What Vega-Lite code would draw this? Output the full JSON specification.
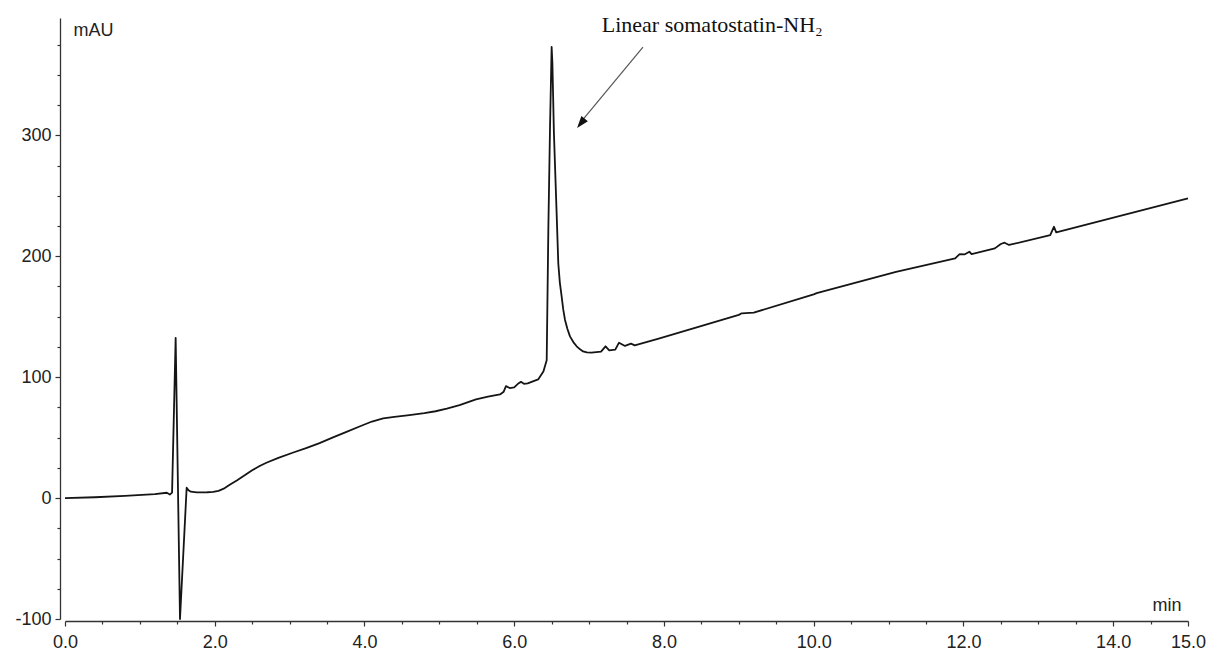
{
  "$schema": "https://vega.github.io/schema/vega-lite/v6.json",
  "width": 1123,
  "height": 601,
  "autosize": {"type": "none"},
  "padding": {"left": 65, "top": 18, "right": 22, "bottom": 33},
  "background": "white",
  "config": {
    "view": {"stroke": null},
    "axis": {
      "labelFont": "Liberation Sans",
      "labelFontSize": 18,
      "labelColor": "#222222",
      "titleFont": "Liberation Sans",
      "titleFontSize": 18,
      "titleFontWeight": "normal",
      "titleColor": "#222222",
      "domainColor": "#333333",
      "domainWidth": 1.3,
      "tickColor": "#333333",
      "tickWidth": 1.2,
      "grid": false
    }
  },
  "datasets": {
    "trace": [
      {"t": 0, "mAU": 0}, {"t": 0.4, "mAU": 0.7}, {"t": 0.8, "mAU": 1.8}, {"t": 1.2, "mAU": 3.3},
      {"t": 1.36, "mAU": 4.4}, {"t": 1.4, "mAU": 2.9}, {"t": 1.43, "mAU": 4.5}, {"t": 1.478, "mAU": 132.5},
      {"t": 1.536, "mAU": -100}, {"t": 1.625, "mAU": 8.6}, {"t": 1.65, "mAU": 6.5}, {"t": 1.68, "mAU": 5.3},
      {"t": 1.76, "mAU": 4.7}, {"t": 1.9, "mAU": 4.8}, {"t": 1.98, "mAU": 5.1}, {"t": 2.05, "mAU": 6.0},
      {"t": 2.12, "mAU": 7.8}, {"t": 2.2, "mAU": 11}, {"t": 2.3, "mAU": 14.8}, {"t": 2.4, "mAU": 18.8},
      {"t": 2.5, "mAU": 23}, {"t": 2.6, "mAU": 26.5}, {"t": 2.69, "mAU": 29.2}, {"t": 2.85, "mAU": 33.3},
      {"t": 3.04, "mAU": 37.5}, {"t": 3.22, "mAU": 41.3}, {"t": 3.4, "mAU": 45.5}, {"t": 3.58, "mAU": 50.2},
      {"t": 3.76, "mAU": 54.8}, {"t": 3.95, "mAU": 59.6}, {"t": 4.1, "mAU": 63.3}, {"t": 4.25, "mAU": 65.9},
      {"t": 4.4, "mAU": 67.2}, {"t": 4.6, "mAU": 68.6}, {"t": 4.8, "mAU": 70.2}, {"t": 4.95, "mAU": 71.8},
      {"t": 5.1, "mAU": 74}, {"t": 5.27, "mAU": 76.9}, {"t": 5.49, "mAU": 81.6}, {"t": 5.65, "mAU": 83.8},
      {"t": 5.81, "mAU": 85.7}, {"t": 5.86, "mAU": 88}, {"t": 5.89, "mAU": 92.6}, {"t": 5.94, "mAU": 91},
      {"t": 6.0, "mAU": 91.5}, {"t": 6.06, "mAU": 95}, {"t": 6.09, "mAU": 96.1}, {"t": 6.13, "mAU": 94.5},
      {"t": 6.18, "mAU": 94.8}, {"t": 6.25, "mAU": 96.5}, {"t": 6.32, "mAU": 98.1}, {"t": 6.39, "mAU": 104.7},
      {"t": 6.434, "mAU": 114}, {"t": 6.456, "mAU": 222}, {"t": 6.478, "mAU": 305}, {"t": 6.5, "mAU": 373},
      {"t": 6.51, "mAU": 360}, {"t": 6.52, "mAU": 332}, {"t": 6.53, "mAU": 303}, {"t": 6.544, "mAU": 277},
      {"t": 6.567, "mAU": 235}, {"t": 6.589, "mAU": 194}, {"t": 6.61, "mAU": 178}, {"t": 6.634, "mAU": 166.6},
      {"t": 6.655, "mAU": 156}, {"t": 6.678, "mAU": 147.5}, {"t": 6.71, "mAU": 140}, {"t": 6.745, "mAU": 133.7},
      {"t": 6.79, "mAU": 129}, {"t": 6.834, "mAU": 125.5}, {"t": 6.88, "mAU": 123}, {"t": 6.92, "mAU": 121.3},
      {"t": 6.97, "mAU": 120.5}, {"t": 7.03, "mAU": 120.2},
      {"t": 7.16, "mAU": 121.1}, {"t": 7.22, "mAU": 125.5}, {"t": 7.27, "mAU": 122.1}, {"t": 7.35, "mAU": 122.7},
      {"t": 7.4, "mAU": 128.5}, {"t": 7.48, "mAU": 125.8}, {"t": 7.56, "mAU": 127.7}, {"t": 7.61, "mAU": 126.3},
      {"t": 7.93, "mAU": 131.8}, {"t": 8.46, "mAU": 141.5}, {"t": 9.0, "mAU": 151.5}, {"t": 9.04, "mAU": 152.8},
      {"t": 9.2, "mAU": 153.3}, {"t": 10.0, "mAU": 168.5}, {"t": 10.04, "mAU": 169.5}, {"t": 11.1, "mAU": 187.1},
      {"t": 11.89, "mAU": 198.2}, {"t": 11.95, "mAU": 201.8}, {"t": 12.02, "mAU": 201.6}, {"t": 12.08, "mAU": 203.7},
      {"t": 12.11, "mAU": 201.8}, {"t": 12.42, "mAU": 206.5}, {"t": 12.5, "mAU": 210.1}, {"t": 12.55, "mAU": 211.2},
      {"t": 12.61, "mAU": 209.3}, {"t": 13.16, "mAU": 217.5}, {"t": 13.21, "mAU": 224.4}, {"t": 13.24, "mAU": 219.7},
      {"t": 15.0, "mAU": 247.9}
    ],
    "label": [
      {"t": 7.17, "mAU": 385.7, "text": "Linear somatostatin-NH₂"}
    ],
    "arrow": [
      {"t": 7.72, "mAU": 373.0, "t2": 6.87, "mAU2": 309.5}
    ],
    "arrowhead": [
      {"t": 6.84, "mAU": 306.0}
    ]
  },
  "resolve": {"axis": {"x": "independent", "y": "independent"}},
  "layer": [
    {
      "data": {"name": "trace"},
      "mark": {"type": "line", "color": "#151515", "strokeWidth": 1.8, "strokeJoin": "round"},
      "encoding": {
        "x": {
          "field": "t", "type": "quantitative",
          "scale": {"domain": [0, 15], "nice": false, "zero": false},
          "axis": {
            "orient": "bottom",
            "values": [0, 2, 4, 6, 8, 10, 12, 14, 15],
            "format": ".1f",
            "offset": 2,
            "tickSize": 5,
            "labelPadding": 7,
            "labelOverlap": false,
            "labelFlush": false,
            "title": "min",
            "titleX": 1116,
            "titleY": -11,
            "titleAlign": "right",
            "titleBaseline": "alphabetic"
          }
        },
        "y": {
          "field": "mAU", "type": "quantitative",
          "scale": {"domain": [-100, 397], "nice": false, "zero": false},
          "axis": {
            "orient": "left",
            "values": [-100, 0, 100, 200, 300],
            "labelExpr": "'' + datum.value",
            "offset": 5,
            "tickSize": 5,
            "labelPadding": 4,
            "labelOverlap": false,
            "labelFlush": false,
            "title": "mAU",
            "titleAngle": 0,
            "titleX": 13,
            "titleY": 17,
            "titleAlign": "left",
            "titleBaseline": "alphabetic"
          }
        }
      }
    },
    {
      "mark": {"type": "rule", "color": "#333333", "strokeWidth": 1.3},
      "encoding": {
        "x": {
          "datum": 0, "type": "quantitative",
          "axis": {
            "orient": "bottom",
            "values": [0.5, 1, 1.5, 2.5, 3, 3.5, 4.5, 5, 5.5, 6.5, 7, 7.5, 8.5, 9, 9.5, 10.5, 11, 11.5, 12.5, 13, 13.5, 14.5],
            "offset": 2,
            "tickSize": 3,
            "labels": false,
            "domain": false,
            "title": null
          }
        }
      }
    },
    {
      "mark": {"type": "rule", "color": "#333333", "strokeWidth": 1.3},
      "encoding": {
        "y": {
          "datum": -100, "type": "quantitative",
          "axis": {
            "orient": "left",
            "values": [-75, -50, -25, 25, 50, 75, 125, 150, 175, 225, 250, 275, 325, 350, 375],
            "offset": 5,
            "tickSize": 3,
            "labels": false,
            "domain": false,
            "title": null
          }
        }
      }
    },
    {
      "mark": {"type": "rule", "color": "#333333", "strokeWidth": 1.3},
      "encoding": {
        "x": {"datum": 15, "type": "quantitative", "axis": null}
      }
    },
    {
      "data": {"name": "arrow"},
      "mark": {"type": "rule", "color": "#555555", "strokeWidth": 1.2},
      "encoding": {
        "x": {"field": "t", "type": "quantitative", "axis": null},
        "y": {"field": "mAU", "type": "quantitative", "axis": null},
        "x2": {"field": "t2"},
        "y2": {"field": "mAU2"}
      }
    },
    {
      "data": {"name": "arrowhead"},
      "mark": {
        "type": "point",
        "shape": "M0,0L0.7,2L-0.7,2Z",
        "filled": true,
        "color": "#111111",
        "opacity": 1,
        "size": 144,
        "angle": 219
      },
      "encoding": {
        "x": {"field": "t", "type": "quantitative", "axis": null},
        "y": {"field": "mAU", "type": "quantitative", "axis": null}
      }
    },
    {
      "data": {"name": "label"},
      "mark": {
        "type": "text",
        "font": "Liberation Serif",
        "fontSize": 22,
        "color": "#111111",
        "align": "left",
        "baseline": "alphabetic"
      },
      "encoding": {
        "x": {"field": "t", "type": "quantitative", "axis": null},
        "y": {"field": "mAU", "type": "quantitative", "axis": null},
        "text": {"field": "text"}
      }
    }
  ]
}
